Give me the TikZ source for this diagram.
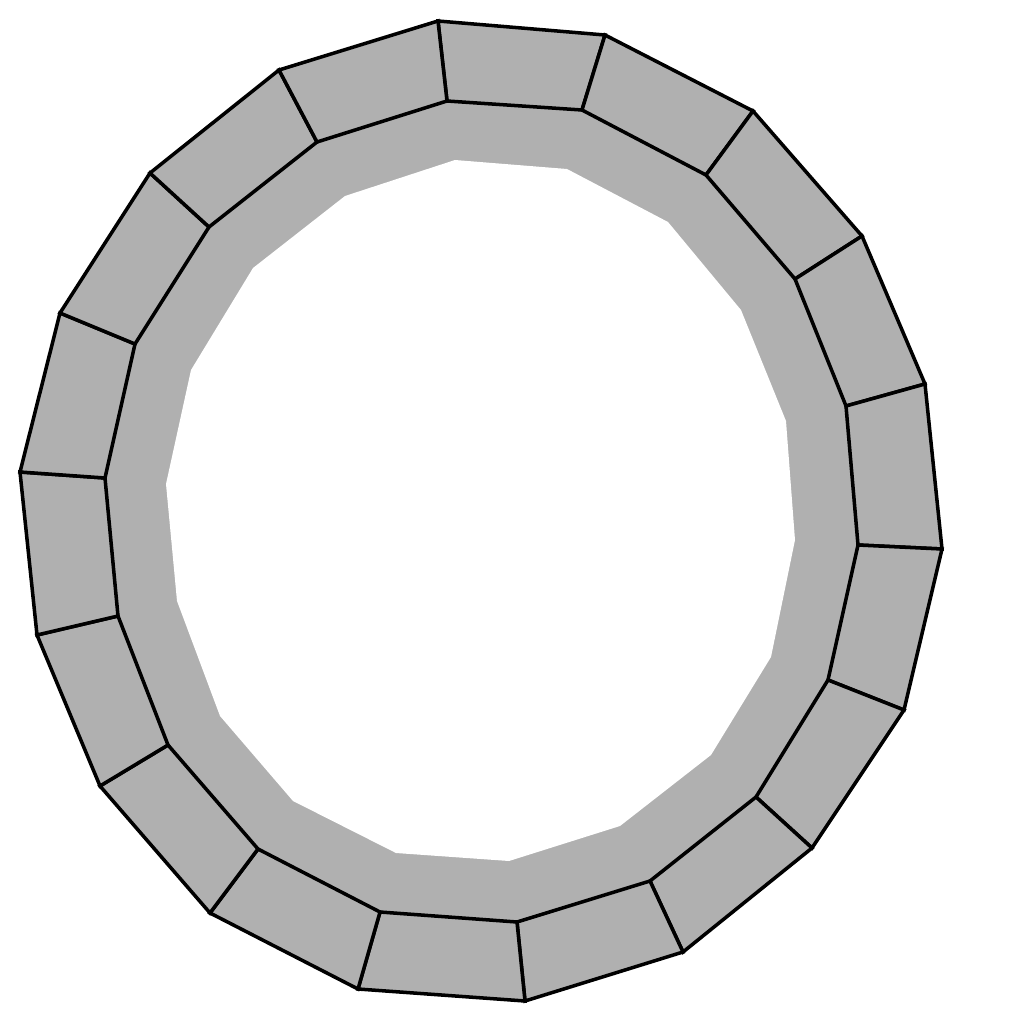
\documentclass[tikz,border=0pt]{standalone}
\usepackage{tikz}

\begin{document}
\begin{tikzpicture}[
        x=0.01cm, y=-0.01cm,
        block/.style={fill=black!31, draw=black, line width=1pt},
        band/.style={fill=black!31},
        hole/.style={fill=white}
    ]
    \useasboundingbox (0,0) rectangle (1024,1024);

    % Corners of the 18 blocks: outer edge, inner edge, and edge of the white hole
    \foreach \i/\ox/\oy/\ix/\iy/\wx/\wy in {
        0/438/21/447/101/455/160,
        1/605/35/582/110/567/169,
        2/753/111/706/175/668/222,
        3/862/236/795/279/741/310,
        4/925/384/846/406/786/421,
        5/942/549/858/545/795/540,
        6/904/710/828/680/771/657,
        7/812/848/756/797/711/755,
        8/683/952/650/881/620/826,
        9/525/1001/517/922/509/861,
        10/358/989/380/912/396/853,
        11/210/913/258/849/293/801,
        12/100/786/168/745/220/716,
        13/37/635/118/616/177/601,
        14/20/472/105/478/166/484,
        15/60/313/135/344/191/370,
        16/150/173/209/227/253/268,
        17/279/70/317/142/345/196} {
        \coordinate (o\i) at (\ox,\oy);
        \coordinate (in\i) at (\ix,\iy);
        \coordinate (w\i) at (\wx,\wy);
    }

    % Gray band under the blocks, white hole in the middle
    \fill[band] (in0) \foreach \i in {1,...,17} {-- (in\i)} -- cycle;
    \fill[hole] (w0) \foreach \i in {1,...,17} {-- (w\i)} -- cycle;

    % The blocks
    \foreach \i in {0,...,17} {
        \pgfmathtruncatemacro{\j}{mod(\i+1,18)}
        \draw[block] (o\i) -- (o\j) -- (in\j) -- (in\i) -- cycle;
    }

\end{tikzpicture}
\end{document}
